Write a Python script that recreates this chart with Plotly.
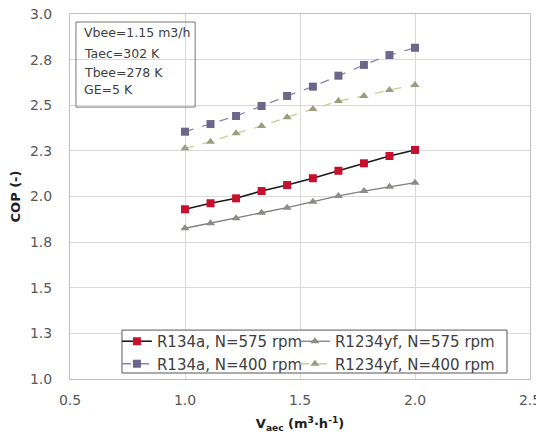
import plotly.graph_objects as go

x_vals = [1.0, 1.111, 1.222, 1.333, 1.444, 1.556, 1.667, 1.778, 1.889, 2.0]
r134a_575 = [1.930, 1.963, 1.990, 2.030, 2.063, 2.100, 2.141, 2.182, 2.222, 2.255]
r134a_400 = [2.355, 2.397, 2.441, 2.496, 2.551, 2.602, 2.662, 2.721, 2.775, 2.815]
r1234yf_575 = [1.826, 1.853, 1.881, 1.911, 1.939, 1.971, 2.003, 2.030, 2.054, 2.076]
r1234yf_400 = [2.264, 2.300, 2.346, 2.386, 2.434, 2.479, 2.523, 2.551, 2.584, 2.611]

y_tickvals = [1.0, 1.25, 1.5, 1.75, 2.0, 2.25, 2.5, 2.75, 3.0]
y_ticktext = ["1.0", "1.3", "1.5", "1.8", "2.0", "2.3", "2.5", "2.8", "3.0"]
x_tickvals = [0.5, 1.0, 1.5, 2.0, 2.5]
x_ticktext = ["0.5", "1.0", "1.5", "2.0", "2.5"]
info_lines = ["Vbee=1.15 m3/h", "Taec=302 K", "Tbee=278 K", "GE=5 K"]

FONT = "DejaVu Sans, Arial, sans-serif"

fig = go.Figure()
fig.add_trace(go.Scatter(x=x_vals, y=r134a_575, name="R134a, N=575 rpm", mode="lines+markers",
                         legend="legend",
                         line=dict(color="#1a1a1a", width=1.6),
                         marker=dict(symbol="square", size=8, color="#c8102e")))
fig.add_trace(go.Scatter(x=x_vals, y=r134a_400, name="R134a, N=400 rpm", mode="lines+markers",
                         legend="legend",
                         line=dict(color="#8a84b0", width=1.3, dash="dash"),
                         marker=dict(symbol="square", size=8, color="#6b6789")))
fig.add_trace(go.Scatter(x=x_vals, y=r1234yf_575, name="R1234yf, N=575 rpm", mode="lines+markers",
                         legend="legend2",
                         line=dict(color="#7f7f7f", width=1.3),
                         marker=dict(symbol="triangle-up", size=8, color="#8c8c84")))
fig.add_trace(go.Scatter(x=x_vals, y=r1234yf_400, name="R1234yf, N=400 rpm", mode="lines+markers",
                         legend="legend2",
                         line=dict(color="#c8d090", width=1.3, dash="dash"),
                         marker=dict(symbol="triangle-up", size=8, color="#9c9c80")))

line_y = [0.948, 0.893, 0.841, 0.792]
annots = [dict(xref="paper", yref="paper", x=0.026, y=yy, xanchor="left", yanchor="middle",
               text=t, showarrow=False, font=dict(family=FONT, size=12.5, color="#404040"))
          for t, yy in zip(info_lines, line_y)]

leg_common = dict(orientation="v", yanchor="top", xanchor="left",
                  bgcolor="rgba(0,0,0,0)", borderwidth=0, tracegroupgap=0, itemwidth=30,
                  font=dict(family=FONT, size=15, color="#404040"))

fig.update_layout(
    width=536, height=426,
    margin=dict(l=62, r=14, t=6, b=55, autoexpand=False),
    paper_bgcolor="white", plot_bgcolor="white",
    font=dict(family=FONT, color="#404040", size=13),
    showlegend=True,
    legend=dict(x=0.102, y=0.148, **leg_common),
    legend2=dict(x=0.489, y=0.148, **leg_common),
    annotations=annots,
    shapes=[
        dict(type="rect", xref="paper", yref="paper", x0=0.013, x1=0.272, y0=0.745, y1=0.978,
             line=dict(color="#777777", width=1), fillcolor="rgba(0,0,0,0)"),
        dict(type="rect", xref="paper", yref="paper", x0=0.113, x1=0.95, y0=0.0164, y1=0.134,
             line=dict(color="#555555", width=1), fillcolor="white", layer="above"),
    ],
)
fig.update_xaxes(range=[0.5, 2.5], tickvals=x_tickvals, ticktext=x_ticktext, automargin=False,
                 showgrid=True, gridcolor="#d9d9d9", zeroline=False,
                 showline=True, linecolor="#bfbfbf", mirror=True, ticks="",
                 ticklabelstandoff=8, ticklabeloverflow="allow",
                 tickfont=dict(family=FONT, size=14, color="#595959"),
                 title=dict(text="<b>V<sub>aec</sub> (m<sup>3</sup>·h<sup>-1</sup>)</b>",
                            font=dict(family=FONT, size=13, color="#202020"), standoff=12))
fig.update_yaxes(range=[1.0, 3.0], tickvals=y_tickvals, ticktext=y_ticktext, automargin=False,
                 showgrid=True, gridcolor="#d9d9d9", zeroline=False,
                 showline=True, linecolor="#bfbfbf", mirror=True, ticks="",
                 ticklabelstandoff=14, ticklabeloverflow="allow",
                 tickfont=dict(family=FONT, size=14, color="#595959"),
                 title=dict(text="<b>COP (-)</b>", font=dict(family=FONT, size=13, color="#202020"), standoff=8))

fig.write_html("out.html")
